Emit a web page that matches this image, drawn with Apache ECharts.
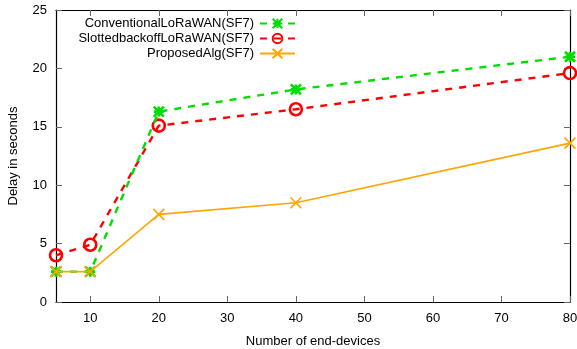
<!DOCTYPE html>
<html>
<head>
<meta charset="utf-8">
<script src="https://cdn.jsdelivr.net/npm/echarts@6/dist/echarts.min.js"></script>
<style>html,body{margin:0;padding:0;background:#fff;}#c{width:577px;height:349px;}</style>
</head>
<body>
<div id="c"></div>
<script>
const xValues = [5, 10, 20, 40, 80];
const conventional = [2.6, 2.6, 16.3, 18.2, 21.0];
const slotted = [4.0, 4.9, 15.1, 16.5, 19.6];
const proposed = [2.6, 2.6, 7.5, 8.5, 13.6];
const xTicks = [10, 20, 30, 40, 50, 60, 70, 80];
const seriesNames = ['ConventionalLoRaWAN(SF7)', 'SlottedbackoffLoRaWAN(SF7)', 'ProposedAlg(SF7)'];

const pair = arr => xValues.map((x, i) => [x, arr[i]]);
const font = 'Liberation Sans, Arial, sans-serif';
const asterisk = 'path://M0,0L10,10M10,0L0,10M5,0L5,10M0,5L10,5';
const cross = 'path://M0,0L10,10M10,0L0,10';
const ring = 'path://M10,5A5,5,0,1,1,0,5A5,5,0,1,1,10,5Z';

const chart = echarts.init(document.getElementById('c'));
const axisCommon = {
  axisLine: {show: true, onZero: false, lineStyle: {color: '#000', width: 1.2}},
  splitLine: {show: false}
};
const tickStyle = {color: '#666', width: 1};
chart.setOption({
  animation: false,
  backgroundColor: '#fff',
  grid: {left: 56, right: 7, top: 10, bottom: 47, containLabel: false, outerBoundsMode: 'none'},
  legend: [0, 1, 2].map(i => ({
    data: [seriesNames[i]],
    right: 281,
    top: 17 + i * 15,
    itemWidth: 35,
    itemHeight: 12,
    align: 'right',
    itemGap: 6,
    padding: 0,
    textStyle: {fontFamily: font, fontSize: 13, color: '#000', padding: [0, 1, 0, 0]}
  })),
  xAxis: [
    Object.assign({}, axisCommon, {
      type: 'value', min: 5, max: 80, position: 'bottom',
      name: 'Number of end-devices', nameLocation: 'middle', nameGap: 33,
      nameTextStyle: {fontFamily: font, fontSize: 13, color: '#000'},
      axisTick: {show: true, inside: true, length: 6, customValues: xTicks, lineStyle: tickStyle},
      axisLabel: {show: true, customValues: xTicks, fontFamily: font, fontSize: 13, color: '#000', margin: 10}
    }),
    Object.assign({}, axisCommon, {
      type: 'value', min: 5, max: 80, position: 'top',
      axisTick: {show: true, inside: true, length: 6, customValues: xTicks, lineStyle: tickStyle},
      axisLabel: {show: false}
    })
  ],
  yAxis: [
    Object.assign({}, axisCommon, {
      type: 'value', min: 0, max: 25, interval: 5, position: 'left',
      name: 'Delay in seconds', nameLocation: 'middle', nameGap: 36, nameRotate: 90,
      nameTextStyle: {fontFamily: font, fontSize: 13, color: '#000'},
      axisTick: {show: true, inside: true, length: 6, lineStyle: tickStyle},
      axisLabel: {fontFamily: font, fontSize: 13, color: '#000', margin: 9}
    }),
    Object.assign({}, axisCommon, {
      type: 'value', min: 0, max: 25, interval: 5, position: 'right',
      axisTick: {show: true, inside: true, length: 6, lineStyle: tickStyle},
      axisLabel: {show: false}
    })
  ],
  series: [
    {
      name: seriesNames[0], type: 'line', data: pair(conventional),
      symbol: asterisk, symbolSize: 10, showSymbol: true, showAllSymbol: true,
      lineStyle: {color: '#00dd00', width: 2.4, type: [7, 7]},
      itemStyle: {color: '#00dd00', borderColor: '#00dd00', borderWidth: 2.6},
      z: 3
    },
    {
      name: seriesNames[1], type: 'line', data: pair(slotted),
      symbol: ring, symbolSize: 12, showSymbol: true, showAllSymbol: true,
      lineStyle: {color: '#ff0000', width: 2.4, type: [7, 7]},
      itemStyle: {color: 'rgba(0,0,0,0)', borderColor: '#ff0000', borderWidth: 2.6},
      z: 2
    },
    {
      name: seriesNames[2], type: 'line', data: pair(proposed),
      symbol: cross, symbolSize: 11, showSymbol: true, showAllSymbol: true,
      lineStyle: {color: '#ffa500', width: 1.6},
      itemStyle: {color: '#ffa500', borderColor: '#ffa500', borderWidth: 1.6},
      z: 4
    }
  ]
});
</script>
</body>
</html>
